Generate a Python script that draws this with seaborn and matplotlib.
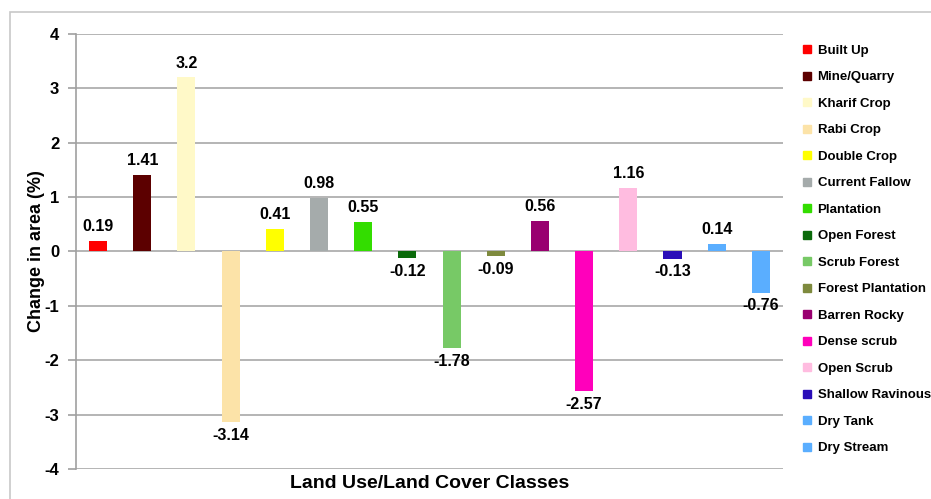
import matplotlib
matplotlib.use("Agg")
import matplotlib.pyplot as plt
import seaborn as sns
import pandas as pd
from matplotlib.lines import Line2D
from matplotlib.patches import Rectangle

# --- data ---
classes = ["Built Up", "Mine/Quarry", "Kharif Crop", "Rabi Crop", "Double Crop",
           "Current Fallow", "Plantation", "Open Forest", "Scrub Forest",
           "Forest Plantation", "Barren Rocky", "Dense scrub", "Open Scrub",
           "Shallow Ravinous", "Dry Tank", "Dry Stream"]
change = [0.19, 1.41, 3.2, -3.14, 0.41, 0.98, 0.55, -0.12, -1.78, -0.09,
          0.56, -2.57, 1.16, -0.13, 0.14, -0.76]
value_labels = ["0.19", "1.41", "3.2", "-3.14", "0.41", "0.98", "0.55", "-0.12",
                "-1.78", "-0.09", "0.56", "-2.57", "1.16", "-0.13", "0.14", "-0.76"]
colors = ["#FF0000", "#5C0000", "#FFF9C8", "#FCE3A8", "#FFFF00", "#A5ABAB",
          "#33DD00", "#0B6A0B", "#77C966", "#7E8A3E", "#990070", "#FF00BB",
          "#FFBCE0", "#2A0EB8", "#5AAEFF", "#5AAEFF"]
yticks = [-4, -3, -2, -1, 0, 1, 2, 3, 4]

df = pd.DataFrame({"cls": classes, "change": change})

sns.set_style("white")
plt.rcParams["font.family"] = ["Liberation Sans", "DejaVu Sans"]
plt.rcParams["font.weight"] = "bold"
plt.rcParams["text.color"] = "black"
plt.rcParams["axes.labelcolor"] = "black"
plt.rcParams["ytick.labelcolor"] = "black"

fig = plt.figure(figsize=(9.31, 4.99), dpi=100)
ax = fig.add_axes([0.0816, 0.0601, 0.7594, 0.8718])

# light frame around the whole chart
fig.patches.append(Rectangle((10 / 931, -0.1), 1.2, 1 - 12 / 499 + 0.1,
                             transform=fig.transFigure, fill=False,
                             edgecolor="#C8C8C8", linewidth=1.2))

sns.barplot(data=df, x="cls", y="change", hue="cls", palette=colors,
            width=0.41, dodge=False, legend=False, ax=ax, saturation=1,
            linewidth=0)

ax.set_ylim(-4, 4)
ax.set_xlim(-0.5, len(classes) - 0.5)
ax.set_yticks(yticks)
ax.set_yticklabels([str(t) for t in yticks], fontsize=12, fontweight="bold")
ax.yaxis.grid(True, color="#A8A8A8", linewidth=1.2)
ax.set_axisbelow(True)
ax.set_xticks([])
for s in ["top", "right", "bottom"]:
    ax.spines[s].set_visible(False)
ax.spines["left"].set_color("#A0A0A0")
ax.spines["left"].set_linewidth(1.2)
ax.tick_params(axis="y", left=True, length=6, width=1.2, color="#A0A0A0", pad=6)

ax.set_ylabel("Change in area (%)", fontsize=13, fontweight="bold", labelpad=0)
ax.set_xlabel("Land Use/Land Cover Classes", fontsize=14, fontweight="bold", labelpad=4)

for i, (v, lab) in enumerate(zip(change, value_labels)):
    if v >= 0:
        ax.annotate(lab, (i, v), xytext=(0, 5), textcoords="offset points",
                    ha="center", va="bottom", fontsize=11.5, fontweight="bold")
    else:
        ax.annotate(lab, (i, v), xytext=(0, -4), textcoords="offset points",
                    ha="center", va="top", fontsize=11.5, fontweight="bold")

handles = [Line2D([0], [0], marker="s", linestyle="none", markersize=6,
                  markerfacecolor=c, markeredgecolor=c) for c in colors]
fig.legend(handles, classes, loc="upper left", bbox_to_anchor=(0.854, 0.921),
           frameon=False, labelspacing=1.08, handletextpad=0.3,
           handlelength=1.0, borderaxespad=0, prop={"weight": "bold", "size": 9.5})

fig.savefig("out.png", dpi=100)
